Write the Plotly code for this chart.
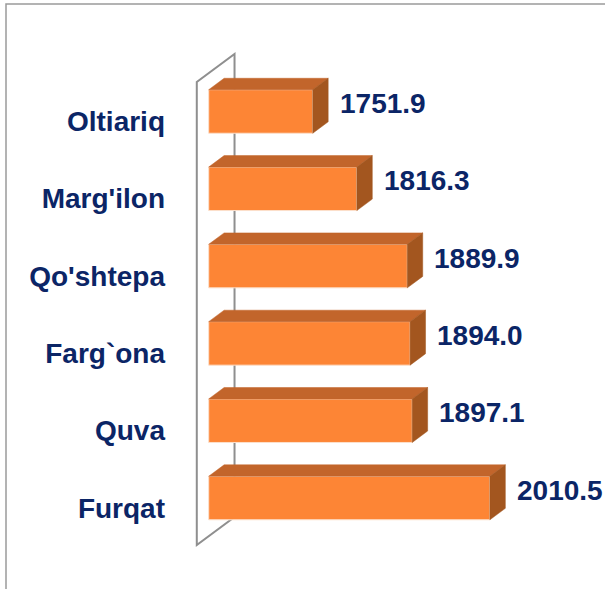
import plotly.graph_objects as go

# ---- data ----
categories = ["Furqat", "Quva", "Farg`ona", "Qo'shtepa", "Marg'ilon", "Oltiariq"]
values = [2010.5, 1897.1, 1894.0, 1889.9, 1816.3, 1751.9]
value_labels = ["2010.5", "1897.1", "1894.0", "1889.9", "1816.3", "1751.9"]
axis_min = 1600

# ---- style / geometry ----
W, H = 605, 589
ML, MR, MT, MB = 170, 0, 0, 0
XR = [1543.5, 2178.5]
YR = [-1.177, 6.442]
BAR_W = 0.563
DX = 22.5      # depth offset in x units
DY = 0.148     # depth offset in y units
FRONT = "#FD8535"
TOP = "#C2652B"
SIDE = "#A3561F"
TXT = "#0B2566"
FONT = "Liberation Sans"
FSIZE = 28

ys = list(range(len(categories)))

fig = go.Figure()

# front faces
fig.add_trace(go.Bar(
    y=ys, x=[v - axis_min for v in values], base=axis_min, orientation="h",
    width=BAR_W, marker=dict(color=FRONT, line=dict(color="#FCE0CC", width=1)),
    hoverinfo="skip", showlegend=False))

# top and side faces computed from values
top_x, top_y, side_x, side_y = [], [], [], []
for y, v in zip(ys, values):
    yt = y + BAR_W / 2
    yb = y - BAR_W / 2
    top_x += [axis_min, v, v + DX, axis_min + DX, axis_min, None]
    top_y += [yt, yt, yt + DY, yt + DY, yt, None]
    side_x += [v, v + DX, v + DX, v, v, None]
    side_y += [yt, yt + DY, yb + DY, yb, yt, None]

fig.add_trace(go.Scatter(x=top_x, y=top_y, fill="toself", fillcolor=TOP, mode="lines",
                         line=dict(width=0.5, color=TOP), hoverinfo="skip", showlegend=False))
fig.add_trace(go.Scatter(x=side_x, y=side_y, fill="toself", fillcolor=SIDE, mode="lines",
                         line=dict(width=0.5, color=SIDE), hoverinfo="skip", showlegend=False))

# value labels
for y, v, t in zip(ys, values, value_labels):
    fig.add_annotation(x=v, y=y, text=t, showarrow=False, xanchor="left", yanchor="middle",
                       xshift=25, yshift=8,
                       font=dict(family=FONT, size=FSIZE, color=TXT, weight=700))

# wall (side wall of the 3D plot)
wall_front_x = axis_min - 17.4
wall_back_x = axis_min + 37.7
wall_line = dict(color="#8F8F8F", width=2)
shapes = [
    dict(type="path", xref="x", yref="y", layer="below", line=wall_line,
         path=f"M {wall_back_x},-0.246 L {wall_back_x},5.744 L {wall_front_x},5.382 "
              f"L {wall_front_x},-0.608 L {wall_back_x},-0.246 Z"),
    # outer frame
    dict(type="rect", xref="paper", yref="paper", layer="below",
         x0=(6 - ML) / (W - ML - MR), x1=1.05, y0=-0.05, y1=1 - 4 / H,
         line=dict(color="#9A9A9A", width=1.5)),
]

fig.update_layout(
    width=W, height=H, margin=dict(l=ML, r=MR, t=MT, b=MB),
    paper_bgcolor="white", plot_bgcolor="white",
    shapes=shapes, showlegend=False,
    xaxis=dict(range=XR, visible=False, fixedrange=True),
    yaxis=dict(range=YR, tickvals=[y - 0.128 for y in ys], ticktext=categories,
               showgrid=False, zeroline=False, showline=False, ticks="",
               ticklabelstandoff=4,
               tickfont=dict(family=FONT, size=FSIZE, color=TXT, weight=700)),
)

fig.write_html("out.html", config={"displayModeBar": False},
               post_script="document.body.style.margin='0';document.body.style.padding='0';"
                           "document.body.style.overflow='hidden';")
